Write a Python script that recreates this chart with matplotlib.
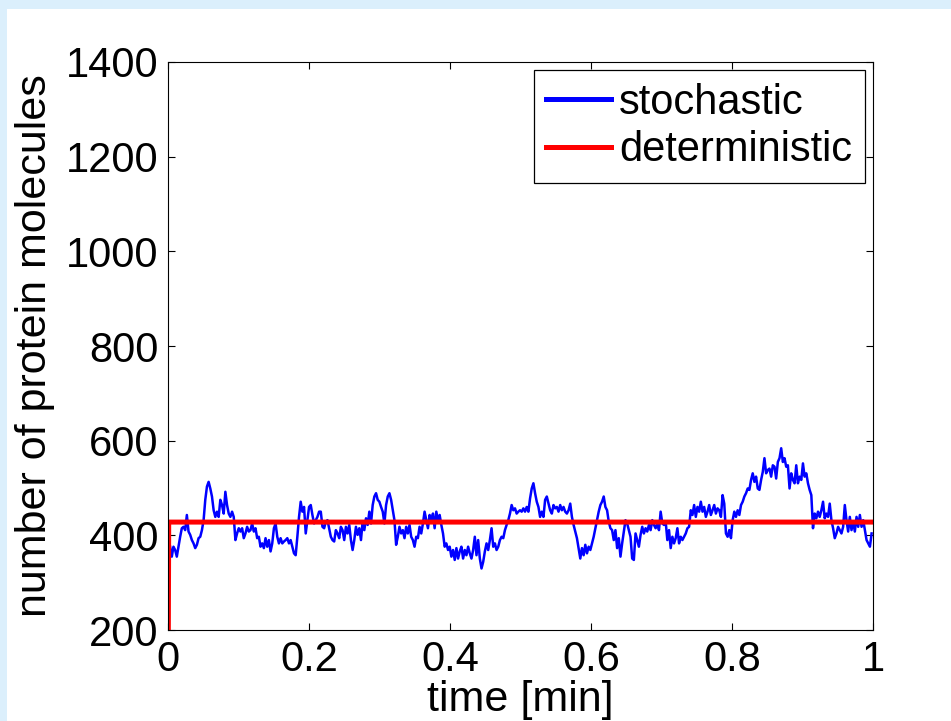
import matplotlib
matplotlib.use("Agg")
import matplotlib.pyplot as plt
import numpy as np
from matplotlib.patches import Rectangle

plt.rcParams["font.family"] = ["Liberation Sans", "DejaVu Sans"]

# -------------------------
# DATA
# -------------------------
stochastic = [
    376, 355, 376, 369, 355, 376, 397, 415, 418, 411,
    443, 408, 401, 390, 383, 373, 380, 394, 397, 411,
    432, 475, 503, 513, 499, 482, 453, 439, 450, 439,
    475, 464, 446, 492, 464, 446, 439, 450, 439, 390,
    404, 415, 408, 415, 394, 404, 418, 408, 411, 425,
    408, 415, 394, 397, 376, 383, 373, 394, 376, 390,
    366, 383, 415, 425, 397, 383, 394, 383, 387,
    390, 394, 383, 390, 376, 362, 358, 397, 439, 471,
    450, 460, 404, 432, 460, 464, 443, 425, 432, 439,
    450, 450, 418, 415, 429, 432, 415, 397, 390, 387,
    411, 404, 394, 418, 411, 390, 418, 404, 422, 390,
    369, 390, 418, 401, 415, 390, 429, 411, 436, 422,
    450, 425, 464, 482, 489, 475, 471, 460, 450, 425,
    464, 482, 489, 475, 453, 432, 380, 397, 418, 404,
    411, 394, 418, 404, 422, 397, 390, 376, 397, 394,
    418, 404, 425, 450, 432, 415, 443, 432, 446, 415,
    450, 432, 443, 422, 404, 376, 383, 369, 376, 355,
    369, 348, 373, 351, 366, 376, 351, 369, 358, 376,
    362, 351, 369, 397, 358, 390, 351, 330, 344, 366,
    383, 369, 390, 415, 376, 383, 369, 376, 390, 397,
    394, 411, 422, 432, 446, 464, 453, 457, 446, 450,
    453, 450, 457, 450, 460, 450, 478, 499, 510, 489,
    471, 460, 439, 450, 439, 475, 482, 467, 453, 446,
    464, 457, 460, 450, 464, 453, 460, 450, 446, 453,
    467, 439, 422, 408, 394, 373, 351, 373, 358, 380,
    362, 376, 369, 383, 397, 415, 432, 450, 464, 471,
    482, 460, 453, 429, 415, 411, 390, 411, 373, 394,
    355, 383, 408, 432, 425, 411, 397, 351, 348, 404,
    390, 376, 401, 418, 404, 415, 408, 422, 411, 432,
    422, 415, 425, 411, 450, 425, 422, 429, 390, 411,
    373, 397, 383, 394, 415, 383, 397, 390, 397, 404,
    415, 418, 453, 443, 464, 439, 460, 450, 471, 450,
    460, 439, 450, 464, 443, 453, 464, 446, 457, 453,
    439, 485, 467, 404, 397, 411, 394, 432, 450, 439,
    453, 443, 464, 471, 482, 489, 499, 496, 517, 531,
    513,
    524, 499, 496, 517, 534, 563, 531, 538, 541, 524,
    548, 545, 520, 555, 563, 584, 555, 563, 545, 548,
    499, 531, 517, 510, 548, 510, 524, 517, 552, 524,
    531, 510, 496, 485, 415, 446, 436, 450, 439, 453,
    471, 436, 446, 439, 467, 432, 415, 394, 404, 418,
    411, 404, 418, 464, 432, 408, 439, 411, 429, 408,
    439, 418, 443, 418, 432, 411, 390, 383, 376, 404,
]
stoch_time = np.linspace(0.003, 0.998, len(stochastic))

det_time = [0.0, 0.001, 1.0]
det_values = [0.0, 428.0, 428.0]

x_ticks = [0, 0.2, 0.4, 0.6, 0.8, 1]
x_ticklabels = ["0", "0.2", "0.4", "0.6", "0.8", "1"]
y_ticks = [200, 400, 600, 800, 1000, 1200, 1400]

# -------------------------
# FIGURE
# -------------------------
fig = plt.figure(figsize=(9.51, 7.21), dpi=100)
fig.patch.set_facecolor("#dbeffc")
fig.add_artist(Rectangle((7 / 951, 0), 1, 1 - 9 / 721, transform=fig.transFigure,
                         facecolor="white", edgecolor="none", zorder=-10))

ax = fig.add_axes([168 / 951, 91 / 721, 705 / 951, 568 / 721])
ax.plot(stoch_time, stochastic, color="#0000ff", lw=1.8, label="stochastic")
ax.plot(det_time, det_values, color="#ff0000", lw=3.6, label="deterministic")

ax.set_xlim(0, 1)
ax.set_ylim(200, 1400)
ax.set_xticks(x_ticks)
ax.set_xticklabels(x_ticklabels)
ax.set_yticks(y_ticks)
ax.tick_params(direction="in", length=5, width=0.8, labelsize=30,
               top=True, right=True, pad=7)
for s in ax.spines.values():
    s.set_linewidth(0.8)

ax.set_xlabel("time [min]", fontsize=31, labelpad=0)
ax.set_ylabel("number of protein molecules", fontsize=31, labelpad=8)

leg = ax.legend(loc="upper right", fontsize=30, handlelength=1.55, handletextpad=0.2,
                borderpad=0.3, labelspacing=0.18, fancybox=False, framealpha=1,
                edgecolor="black", borderaxespad=0.2)
leg.get_frame().set_linewidth(0.9)
for line in leg.get_lines():
    line.set_linewidth(3.6)

fig.savefig("out.png", dpi=100, facecolor=fig.get_facecolor())
